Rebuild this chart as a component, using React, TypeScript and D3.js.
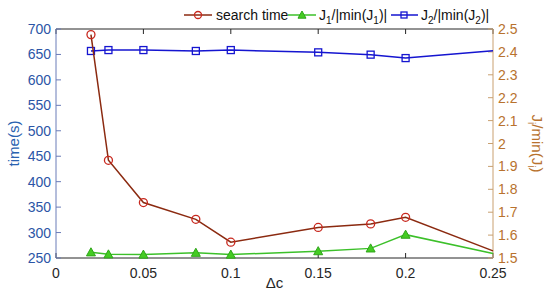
import React from "react";
import * as d3 from "d3";

const dc = [0.02, 0.03, 0.05, 0.08, 0.1, 0.15, 0.18, 0.2, 0.25];
const searchTime = [689, 442, 359, 326, 281, 310, 317, 330, 264];
const j1 = [1.525, 1.516, 1.515, 1.523, 1.515, 1.53, 1.542, 1.602, 1.52];
const j2 = [2.404, 2.408, 2.408, 2.404, 2.408, 2.398, 2.388, 2.373, 2.405];
const xTicks = [0, 0.05, 0.1, 0.15, 0.2, 0.25];
const xTickLabels = ["0", "0.05", "0.1", "0.15", "0.2", "0.25"];
const leftTicks = [250, 300, 350, 400, 450, 500, 550, 600, 650, 700];
const rightTicks = [1.5, 1.6, 1.7, 1.8, 1.9, 2, 2.1, 2.2, 2.3, 2.4, 2.5];
const markerCount = 8; // points with visible markers (last point at the axis edge has none)

const W = 550, H = 295;
const L = 56, R = 493, T = 29, B = 258;
const FONT = "Arial, 'Liberation Sans', sans-serif";
const leftColor = "#2b55a6";
const rightColor = "#b8722e";

export default function App() {
  const x = d3.scaleLinear().domain([0, 0.25]).range([L, R]);
  const yl = d3.scaleLinear().domain([250, 700]).range([B, T]);
  const yr = d3.scaleLinear().domain([1.5, 2.5]).range([B, T]);

  const lineL = d3.line<number>().x((_, i) => x(dc[i])).y((d) => yl(d));
  const lineR = d3.line<number>().x((_, i) => x(dc[i])).y((d) => yr(d));

  const tri = (cx: number, cy: number, s = 4.5) =>
    `M${cx},${cy - s} L${cx + s},${cy + s * 0.8} L${cx - s},${cy + s * 0.8} Z`;

  const tl = 5;

  return (
    <svg width={W} height={H} style={{ position: "absolute", left: 0, top: 0, background: "#fff" }}>
      <rect x={0} y={0} width={W} height={H} fill="#fff" />
      {/* top border */}
      <line x1={L} x2={R} y1={T} y2={T} stroke="#262626" strokeWidth={1} />
      {/* bottom axis */}
      <line x1={L} x2={R} y1={B} y2={B} stroke="#262626" strokeWidth={1} />
      {xTicks.map((t, i) => (
        <g key={"xt" + i}>
          <line x1={x(t)} x2={x(t)} y1={B} y2={B - tl} stroke="#262626" />
          <line x1={x(t)} x2={x(t)} y1={T} y2={T + tl} stroke="#262626" />
          <text x={x(t)} y={B + 20} textAnchor="middle" fontFamily={FONT} fontSize={14} fill="#262626">
            {xTickLabels[i]}
          </text>
        </g>
      ))}
      <text x={x(0.125)} y={B + 30} textAnchor="middle" fontFamily={FONT} fontSize={15} fill="#262626">Δc</text>

      {/* left axis */}
      <line x1={L} x2={L} y1={T} y2={B} stroke="#6a7cb8" strokeWidth={1} />
      {leftTicks.map((t) => (
        <g key={"lt" + t}>
          <line x1={L} x2={L + tl} y1={yl(t)} y2={yl(t)} stroke="#6a7cb8" />
          <text x={L - 5} y={yl(t) + 5} textAnchor="end" fontFamily={FONT} fontSize={14} fill={leftColor}>{t}</text>
        </g>
      ))}
      <text transform={`translate(19,${(T + B) / 2}) rotate(-90)`} textAnchor="middle" fontFamily={FONT} fontSize={15} fill="#2a62b0">time(s)</text>

      {/* right axis */}
      <line x1={R} x2={R} y1={T} y2={B} stroke="#c9a070" strokeWidth={1} />
      {rightTicks.map((t) => (
        <g key={"rt" + t}>
          <line x1={R} x2={R - tl} y1={yr(t)} y2={yr(t)} stroke="#c9a070" />
          <text x={R + 5} y={yr(t) + 5} textAnchor="start" fontFamily={FONT} fontSize={14} fill={rightColor}>{String(t)}</text>
        </g>
      ))}
      <text transform={`translate(532,${(T + B) / 2}) rotate(90)`} textAnchor="middle" fontFamily={FONT} fontSize={15} fill={rightColor}>
        J<tspan dy={4} fontSize={10}>i</tspan><tspan dy={-4}>/min(J</tspan><tspan dy={4} fontSize={10}>i</tspan><tspan dy={-4}>)</tspan>
      </text>

      {/* J2 line */}
      <path d={lineR(j2) || ""} fill="none" stroke="#1515d0" strokeWidth={1.5} />
      {j2.slice(0, markerCount).map((v, i) => (
        <rect key={"j2" + i} x={x(dc[i]) - 3.5} y={yr(v) - 3.5} width={7} height={7} fill="none" stroke="#1515d0" strokeWidth={1.3} />
      ))}
      {/* J1 line */}
      <path d={lineR(j1) || ""} fill="none" stroke="#3cc02a" strokeWidth={1.5} />
      {j1.slice(0, markerCount).map((v, i) => (
        <path key={"j1" + i} d={tri(x(dc[i]), yr(v))} fill="#44cc22" stroke="#2fa51a" strokeWidth={1} />
      ))}
      {/* search time */}
      <path d={lineL(searchTime) || ""} fill="none" stroke="#8b2a10" strokeWidth={1.5} />
      {searchTime.slice(0, markerCount).map((v, i) => (
        <circle key={"st" + i} cx={x(dc[i])} cy={yl(v)} r={4} fill="none" stroke="#c8281e" strokeWidth={1.3} />
      ))}

      {/* legend */}
      <g fontFamily={FONT} fontSize={14} fill="#111">
        <line x1={184} x2={212} y1={15} y2={15} stroke="#8b2a10" strokeWidth={1.5} />
        <circle cx={198} cy={15} r={3.5} fill="none" stroke="#c8281e" strokeWidth={1.3} />
        <text x={216} y={20}>search time</text>

        <line x1={288} x2={316} y1={15} y2={15} stroke="#3cc02a" strokeWidth={1.5} />
        <path d={tri(302, 15, 4)} fill="#44cc22" stroke="#2fa51a" />
        <text x={319} y={20}>
          J<tspan dy={4} fontSize={10}>1</tspan><tspan dy={-4}>/|min(J</tspan><tspan dy={4} fontSize={10}>1</tspan><tspan dy={-4}>)|</tspan>
        </text>

        <line x1={391} x2={418} y1={15} y2={15} stroke="#1515d0" strokeWidth={1.5} />
        <rect x={401} y={12} width={6} height={6} fill="none" stroke="#1515d0" strokeWidth={1.3} />
        <text x={421} y={20}>
          J<tspan dy={4} fontSize={10}>2</tspan><tspan dy={-4}>/|min(J</tspan><tspan dy={4} fontSize={10}>2</tspan><tspan dy={-4}>)|</tspan>
        </text>
      </g>
    </svg>
  );
}
